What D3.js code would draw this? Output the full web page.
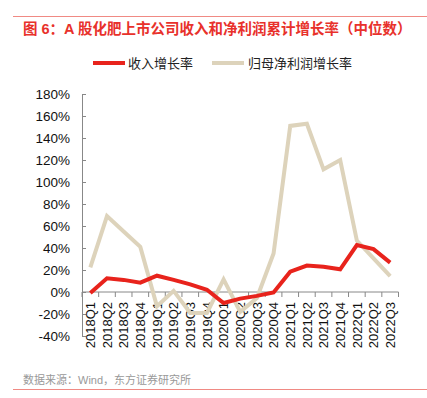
<!DOCTYPE html>
<html>
<head>
<meta charset="utf-8">
<script src="https://cdn.jsdelivr.net/npm/d3@7"></script>
<style>
  body { margin: 0; background: #fff; }
  text { font-family: "Liberation Sans", "Noto Sans CJK SC", sans-serif; }
</style>
</head>
<body>
<svg id="chart" width="427" height="398"></svg>
<script>
// quarters on the x axis
const quarters = ["2018Q1", "2018Q2", "2018Q3", "2018Q4", "2019Q1", "2019Q2", "2019Q3", "2019Q4",
  "2020Q1", "2020Q2", "2020Q3", "2020Q4", "2021Q1", "2021Q2", "2021Q3", "2021Q4",
  "2022Q1", "2022Q2", "2022Q3"];

// median revenue growth (%)
const revenueGrowth = [-1, 12.4, 11, 8.5, 14.8, 11, 7, 2, -10, -6, -3.5, -0.5,
  18.5, 24, 23, 20.6, 42.7, 39, 26.7];

// median net profit growth (%)
const profitGrowth = [22.4, 69, 55, 41, -13, 1, -19, -19, 11.5, -18, -5.5, 35,
  151, 153, 111.5, 120, 46.7, 30.6, 14.5];

const yTicks = [-40, -20, 0, 20, 40, 60, 80, 100, 120, 140, 160, 180];

const seriesNames = ["收入增长率", "归母净利润增长率"];
const seriesColors = ["#e8231c", "#ddd3bb"];

const svg = d3.select("#chart");
const margin = { top: 94, left: 82, right: 28.5, bottom: 62 };
const width = 427, height = 398;

const x = d3.scaleBand()
  .domain(quarters)
  .range([margin.left, width - margin.right]);

const y = d3.scaleLinear()
  .domain([-40, 180])
  .range([height - margin.bottom, margin.top]);

// top rule and title
svg.append("line")
  .attr("x1", 13).attr("x2", 427)
  .attr("y1", 16.5).attr("y2", 16.5)
  .attr("stroke", "#f08a84").attr("stroke-width", 1);

svg.append("text")
  .attr("x", 23).attr("y", 34)
  .attr("fill", "#e8312b")
  .attr("font-size", "14.5px")
  .attr("font-weight", "bold")
  .text("图 6：A 股化肥上市公司收入和净利润累计增长率（中位数）");

// legend
const legend = svg.append("g").attr("transform", "translate(0,63)");
[[93, 128], [212, 248]].forEach(([lx, tx], i) => {
  legend.append("line")
    .attr("x1", lx).attr("x2", lx + 32)
    .attr("y1", 0).attr("y2", 0)
    .attr("stroke", seriesColors[i]).attr("stroke-width", 4);
  legend.append("text")
    .attr("x", tx).attr("y", 5)
    .attr("font-size", "13px")
    .attr("fill", "#222")
    .text(seriesNames[i]);
});

// y axis
const yAxis = svg.append("g")
  .attr("transform", `translate(${margin.left},0)`)
  .call(d3.axisLeft(y).tickValues(yTicks).tickFormat(d => d + "%").tickSize(-4).tickSizeOuter(0).tickPadding(12));
yAxis.select(".domain").attr("stroke", "#888");
yAxis.selectAll(".tick line").attr("stroke", "#888");
yAxis.selectAll(".tick text").attr("font-size", "13.5px").attr("fill", "#111");

// x axis at zero line
const xAxis = svg.append("g")
  .attr("transform", `translate(0,${y(0)})`);
xAxis.append("line")
  .attr("x1", margin.left).attr("x2", width - margin.right)
  .attr("stroke", "#888");
const bounds = quarters.map(q => x(q)).concat([width - margin.right]);
xAxis.selectAll(".xtick")
  .data(bounds)
  .join("line")
  .attr("x1", d => d).attr("x2", d => d)
  .attr("y1", 0).attr("y2", 5)
  .attr("stroke", "#888");
xAxis.selectAll(".xlabel")
  .data(quarters)
  .join("text")
  .attr("transform", d => `translate(${x(d) + x.bandwidth() / 2 + 4.7},10) rotate(-90)`)
  .attr("text-anchor", "end")
  .attr("font-size", "13px")
  .attr("fill", "#111")
  .text(d => d);

// lines
const line = d3.line()
  .x((d, i) => x(quarters[i]) + x.bandwidth() / 2)
  .y(d => y(d));

[profitGrowth, revenueGrowth].forEach((series, k) => {
  svg.append("path")
    .datum(series)
    .attr("fill", "none")
    .attr("stroke", seriesColors[1 - k])
    .attr("stroke-width", 4)
    .attr("stroke-linejoin", "miter")
    .attr("d", line);
});

// source and bottom rule
svg.append("text")
  .attr("x", 23).attr("y", 384)
  .attr("font-size", "11px")
  .attr("fill", "#999")
  .text("数据来源：Wind，东方证券研究所");

svg.append("line")
  .attr("x1", 13).attr("x2", 427)
  .attr("y1", 389.5).attr("y2", 389.5)
  .attr("stroke", "#f08a84").attr("stroke-width", 1);
</script>
</body>
</html>
